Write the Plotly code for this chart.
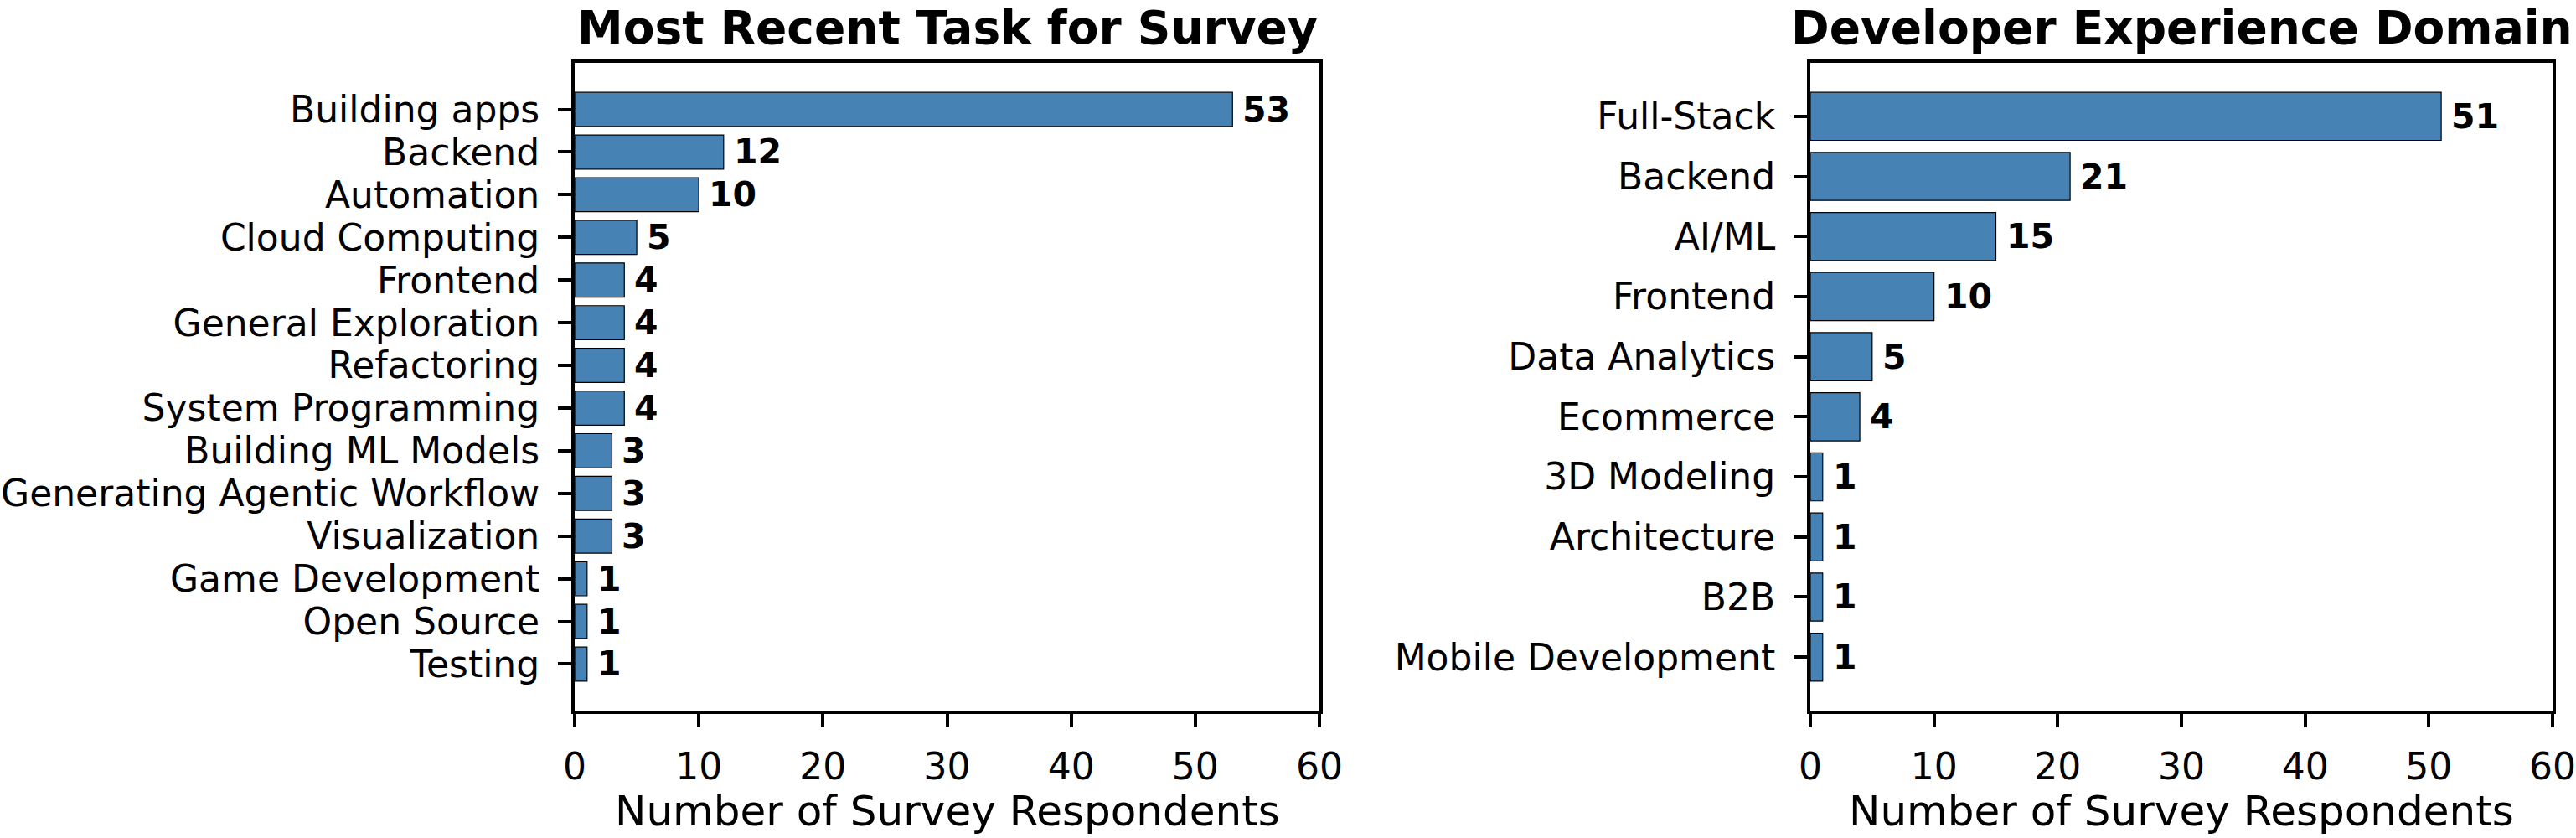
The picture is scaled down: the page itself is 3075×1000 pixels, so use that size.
import plotly.graph_objects as go

# ---- data ----
task_labels = ["Building apps", "Backend", "Automation", "Cloud Computing", "Frontend",
               "General Exploration", "Refactoring", "System Programming", "Building ML Models",
               "Generating Agentic Workflow", "Visualization", "Game Development",
               "Open Source", "Testing"]
task_counts = [53, 12, 10, 5, 4, 4, 4, 4, 3, 3, 3, 1, 1, 1]

domain_labels = ["Full-Stack", "Backend", "AI/ML", "Frontend", "Data Analytics", "Ecommerce",
                 "3D Modeling", "Architecture", "B2B", "Mobile Development"]
domain_counts = [51, 21, 15, 10, 5, 4, 1, 1, 1, 1]

titles = ["Most Recent Task for Survey", "Developer Experience Domain"]
x_title = "Number of Survey Respondents"
x_ticks = [0, 10, 20, 30, 40, 50, 60]

W, H = 3075, 1000
FONT = "DejaVu Sans"
BAR = "#4682B4"

# axes pixel boxes (left, right)
boxes = [(686, 1575), (2161, 3047)]
y_top, y_bot = 75, 848

fig = go.Figure()
annotations = []
panels = [(task_labels, task_counts), (domain_labels, domain_counts)]

for i, ((labels, counts), (xl, xr)) in enumerate(zip(panels, boxes)):
    xa = "x" if i == 0 else "x2"
    ya = "y" if i == 0 else "y2"
    fig.add_trace(go.Bar(
        x=counts, y=labels, orientation="h", width=0.8,
        marker=dict(color=BAR, line=dict(color="black", width=1.2)),
        xaxis=xa, yaxis=ya, showlegend=False, hoverinfo="skip",
    ))
    n = len(labels)
    m = 0.05 * (n - 1 + 0.8)
    axis_common = dict(showline=True, mirror=True, linecolor="black", linewidth=4,
                       ticks="outside", ticklen=16, tickwidth=4, tickcolor="black",
                       showgrid=False, zeroline=False, automargin=False,
                       tickfont=dict(family=FONT, size=44, color="black"))
    xkey = "xaxis" if i == 0 else "xaxis2"
    ykey = "yaxis" if i == 0 else "yaxis2"
    fig.update_layout(**{
        xkey: dict(domain=[xl / W, xr / W], range=[0, 60], tickmode="array",
                   tickvals=x_ticks, anchor=ya, ticklabelstandoff=9, **axis_common),
        ykey: dict(domain=[1 - y_bot / H, 1 - y_top / H], type="category",
                   categoryorder="array", categoryarray=labels,
                   tickmode="array", tickvals=labels, ticktext=labels,
                   range=[n - 1 + 0.4 + m, -0.4 - m], anchor=xa,
                   ticklabelstandoff=13, **axis_common),
    })
    for lab, c in zip(labels, counts):
        annotations.append(dict(x=c, y=lab, xref=xa, yref=ya, text=str(c),
                                showarrow=False, xanchor="left", yanchor="middle",
                                xshift=10,
                                font=dict(family=FONT, size=41, color="black", weight="bold")))
    cx = (xl + xr) / 2 / W
    annotations.append(dict(x=cx, y=1 - 33 / H, xref="paper", yref="paper",
                            text=f"<b>{titles[i]}</b>", showarrow=False,
                            xanchor="center", yanchor="middle",
                            font=dict(family=FONT, size=55, color="black")))
    annotations.append(dict(x=cx, y=1 - 968 / H, xref="paper", yref="paper",
                            text=x_title, showarrow=False,
                            xanchor="center", yanchor="middle",
                            font=dict(family=FONT, size=50, color="black")))

fig.update_layout(width=W, height=H, margin=dict(l=0, r=0, t=0, b=0),
                  paper_bgcolor="white", plot_bgcolor="white",
                  annotations=annotations, bargap=0.2)

fig.write_html("out.html", config={"displayModeBar": False},
               post_script="document.body.style.margin='0';document.body.style.overflow='hidden';")
